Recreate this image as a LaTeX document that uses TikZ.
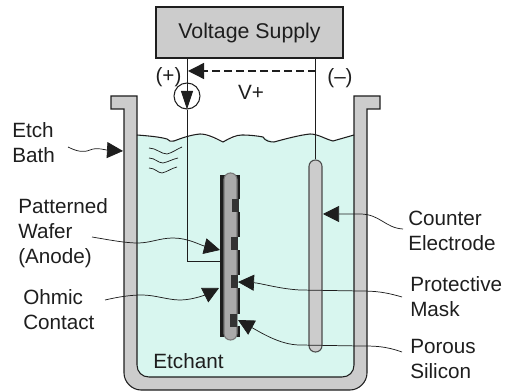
\documentclass[tikz,border=0pt]{standalone}
\usepackage{fontspec}
\setmainfont{Liberation Sans}
\usepackage{xcolor}
\usetikzlibrary{arrows.meta, positioning}
\definecolor{wallgray}{RGB}{204, 204, 204}
\definecolor{etchantgreen}{RGB}{216, 246, 239}
\definecolor{wafergray}{RGB}{170, 170, 170}
\definecolor{maskdark}{RGB}{51, 51, 51}
\definecolor{inkblack}{RGB}{30, 30, 30}

\begin{document}
\begin{tikzpicture}[x=0.75pt, y=-0.75pt,
    label/.style={font=\fontsize{15.5}{18.75}\selectfont, text=inkblack, inner sep=0pt, align=left},
    wall/.style={draw=inkblack, fill=wallgray, line width=0.8pt},
    electrode/.style={rectangle, draw=inkblack!80, fill=wallgray, line width=0.8pt, rounded corners=4.8pt, inner sep=0pt, minimum width=9.75pt, minimum height=144pt},
    wire/.style={draw=inkblack, line width=0.75pt},
    leader/.style={draw=inkblack, line width=0.55pt, -{Triangle[length=12pt, width=12pt]}},
    ripple/.style={draw=inkblack, line width=0.55pt}]

    \useasboundingbox (0,0) rectangle (506,391);

    % bath
    \fill [etchantgreen] (137,135) -- (167,139) -- (170,142) -- (187,137) -- (200,134) -- (223,142) -- (242,135)
        -- (263,137) -- (274,142) -- (310,134) -- (333,141) -- (354,135) -- (354,380) -- (137,380) -- cycle;
    \draw [wall] (124,109) -- (111,109) -- (111,96) -- (137,96) -- (137,365) .. controls (137,372) and (142,377) .. (149,377)
        -- (342,377) .. controls (349,377) and (354,372) .. (354,365) -- (354,96) -- (380,96) -- (380,109) -- (367,109)
        -- (367,373) .. controls (367,382) and (359,390) .. (350,390) -- (141,390) .. controls (132,390) and (124,382) .. (124,373) -- cycle;
    \draw [ripple, line width=0.8pt] (137,135) .. controls (150,136) and (160,137) .. (167,139) .. controls (169,141) and (171,142) .. (174,141)
        .. controls (182,138) and (190,135) .. (200,134) .. controls (208,134) and (217,139) .. (223,142)
        .. controls (230,138) and (236,135) .. (242,135) .. controls (250,135) and (258,136) .. (263,137)
        .. controls (265,141) and (270,142) .. (274,142) .. controls (285,139) and (300,135) .. (310,134)
        .. controls (318,134) and (325,139) .. (333,141) -- (354,135);
    \draw [ripple] (149,148) .. controls (156,148) and (161,154) .. (167,154) .. controls (172,153) and (177,149) .. (182,147);
    \draw [ripple] (149,158) .. controls (155,158) and (158,163) .. (163,163) .. controls (168,162) and (173,159) .. (178,158);
    \draw [ripple] (149,168) .. controls (155,168) and (158,173) .. (162,173) .. controls (167,172) and (172,168) .. (177,167);

    % supply
    \node [rectangle, draw=inkblack, fill=wallgray, line width=1pt, minimum width=140.25pt, minimum height=38.25pt, label, font=\fontsize{16}{18}\selectfont] (supply) at (249.5,32.5) {Voltage Supply};
    \node [circle, draw=inkblack, line width=0.8pt, fill=white, inner sep=0pt, minimum size=19.5pt] (source) at (187,96) {};

    % wafer
    \fill [inkblack] (220,175) rectangle (224.5,337);
    \foreach \ya/\yb in {175/199, 212/237, 250/275, 288/314, 326/337}
        \fill [inkblack] (235.5,\ya) rectangle (240,\yb);
    \node [electrode, draw=wafergray!70!black, fill=wafergray, minimum height=125.25pt] (wafer) at (230.5,256.5) {};
    \foreach \xm/\ym in {232/199, 231/237, 231/275, 230/314}
        \fill [maskdark] (\xm,\ym) rectangle ++(7,13);
    \node [electrode] (counter) at (315.5,256) {};

    \coordinate (contact) at (220,262);
    \coordinate (sensetip) at (188,71);
    \coordinate (sensefrom) at (316,71);
    \path [wire] (supply.south -| source) -- (source.north);
    \path [wire, -{Triangle[length=14pt, width=9pt]}] (source.north) -- (source.south);
    \path [wire] (source.south) |- (contact);
    \path [wire] (supply.south -| counter) -- (counter.north);
    \path [wire, line width=1pt, dash pattern=on 6pt off 3pt, -{Triangle[length=12pt, width=12pt]}] (sensefrom) -- (sensetip);

    % labels
    \node [label, anchor=west] (bath) at (12,143) {Etch\\Bath};
    \node [label, anchor=west] (patterned) at (18,233) {Patterned\\Wafer\\(Anode)};
    \node [label, anchor=west] (ohmic) at (23,310) {Ohmic\\Contact};
    \node [label, anchor=west] (counterlabel) at (408,231) {Counter\\Electrode};
    \node [label, anchor=west] (protective) at (410,297) {Protective\\Mask};
    \node [label, anchor=west] (porous) at (410,358.5) {Porous\\Silicon};
    \node [label] (etchant) at (188.5,361) {Etchant};
    \node [label] (vplus) at (251,92) {V+};
    \node [label] (plus) at (168.5,77) {(+)};
    \node [label] (minus) at (340,78) {(--)};

    % leaders
    \coordinate (bathfrom) at (68,147);
    \coordinate (bathtip) at (123,151);
    \coordinate (patternedfrom) at (92,237);
    \coordinate (patternedtip) at (220,250);
    \coordinate (ohmicfrom) at (105,300);
    \coordinate (ohmictip) at (219,288);
    \coordinate (counterfrom) at (403,229);
    \coordinate (countertip) at (323,214);
    \coordinate (protectivefrom) at (402,297);
    \coordinate (protectivetip) at (238,282);
    \coordinate (porousfrom) at (402,352);
    \coordinate (poroustip) at (238,320);
    \path [leader] (bathfrom) .. controls (76,151) and (83,153) .. (90,150) .. controls (97,147) and (105,150) .. (bathtip);
    \path [leader] (patternedfrom) .. controls (110,240) and (125,243) .. (138,243) .. controls (150,243) and (160,238) .. (173,238) .. controls (188,238) and (200,245) .. (patternedtip);
    \path [leader] (ohmicfrom) .. controls (118,297) and (130,295) .. (142,295) .. controls (155,295) and (168,300) .. (180,300) .. controls (192,300) and (205,295) .. (ohmictip);
    \path [leader] (counterfrom) .. controls (385,228) and (380,214) .. (360,214) -- (countertip);
    \path [leader] (protectivefrom) .. controls (385,292) and (375,291) .. (360,291) -- (300,290) .. controls (280,289) and (260,283) .. (protectivetip);
    \path [leader] (porousfrom) .. controls (385,346) and (375,346) .. (360,346) -- (300,345) .. controls (280,345) and (260,332) .. (poroustip);
\end{tikzpicture}
\end{document}
